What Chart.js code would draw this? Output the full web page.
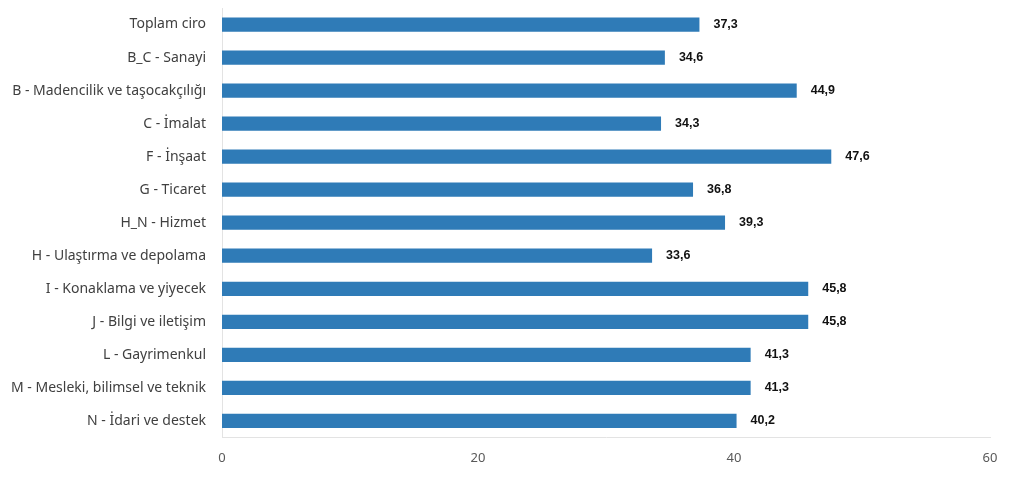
<!DOCTYPE html>
<html>
<head>
<meta charset="utf-8">
<script src="https://cdn.jsdelivr.net/npm/chart.js@4"></script>
<style>
  html, body { margin: 0; padding: 0; background: #fff; }
  #wrap { width: 1024px; height: 482px; position: relative; }
</style>
</head>
<body>
<div id="wrap"><canvas id="chart"></canvas></div>
<script>
// --- data ---
const categories = [
  'Toplam ciro',
  'B_C - Sanayi',
  'B - Madencilik ve taşocakçılığı',
  'C - İmalat',
  'F - İnşaat',
  'G - Ticaret',
  'H_N - Hizmet',
  'H - Ulaştırma ve depolama',
  'I - Konaklama ve yiyecek',
  'J - Bilgi ve iletişim',
  'L - Gayrimenkul',
  'M - Mesleki, bilimsel ve teknik',
  'N - İdari ve destek'
];
const values = [37.3, 34.6, 44.9, 34.3, 47.6, 36.8, 39.3, 33.6, 45.8, 45.8, 41.3, 41.3, 40.2];
const xTicks = [0, 20, 40, 60];

// value labels drawn right of each bar
const valueLabels = {
  id: 'valueLabels',
  afterDatasetsDraw(chart) {
    const ctx = chart.ctx;
    const meta = chart.getDatasetMeta(0);
    ctx.save();
    ctx.font = 'bold 12.5px "Liberation Sans", Arial, sans-serif';
    ctx.fillStyle = '#111';
    ctx.textBaseline = 'middle';
    ctx.textAlign = 'left';
    meta.data.forEach((bar, i) => {
      const txt = values[i].toFixed(1).replace('.', ',');
      ctx.fillText(txt, bar.x + 14, bar.y);
    });
    ctx.restore();
  }
};

new Chart(document.getElementById('chart'), {
  type: 'bar',
  data: {
    labels: categories,
    datasets: [{
      data: values,
      backgroundColor: '#2f7bb7',
      borderWidth: 0,
      categoryPercentage: 0.9,
      barPercentage: 0.48
    }]
  },
  options: {
    indexAxis: 'y',
    responsive: true,
    maintainAspectRatio: false,
    animation: false,
    layout: { padding: { top: 8, right: 34, bottom: 3, left: 0 } },
    plugins: { legend: { display: false }, tooltip: { enabled: false } },
    scales: {
      x: {
        min: 0,
        max: 60,
        afterBuildTicks(scale) { scale.ticks = xTicks.map(v => ({ value: v })); },
        grid: { display: false, drawTicks: false },
        border: { display: true, color: '#e3e3e3', width: 1 },
        ticks: {
          padding: 13,
          color: '#595959',
          font: { family: '"Noto Sans", "Open Sans", sans-serif', size: 13 }
        }
      },
      y: {
        afterFit(scale) {
          scale.width = 222;
          scale.paddingTop = 0;
          scale.paddingBottom = 0;
        },
        grid: { display: false, drawTicks: false },
        border: { display: true, color: '#e3e3e3', width: 1 },
        ticks: {
          padding: 16,
          color: '#404040',
          font: { family: '"Noto Sans", "Open Sans", sans-serif', size: 14 }
        }
      }
    }
  },
  plugins: [valueLabels]
});
</script>
</body>
</html>
